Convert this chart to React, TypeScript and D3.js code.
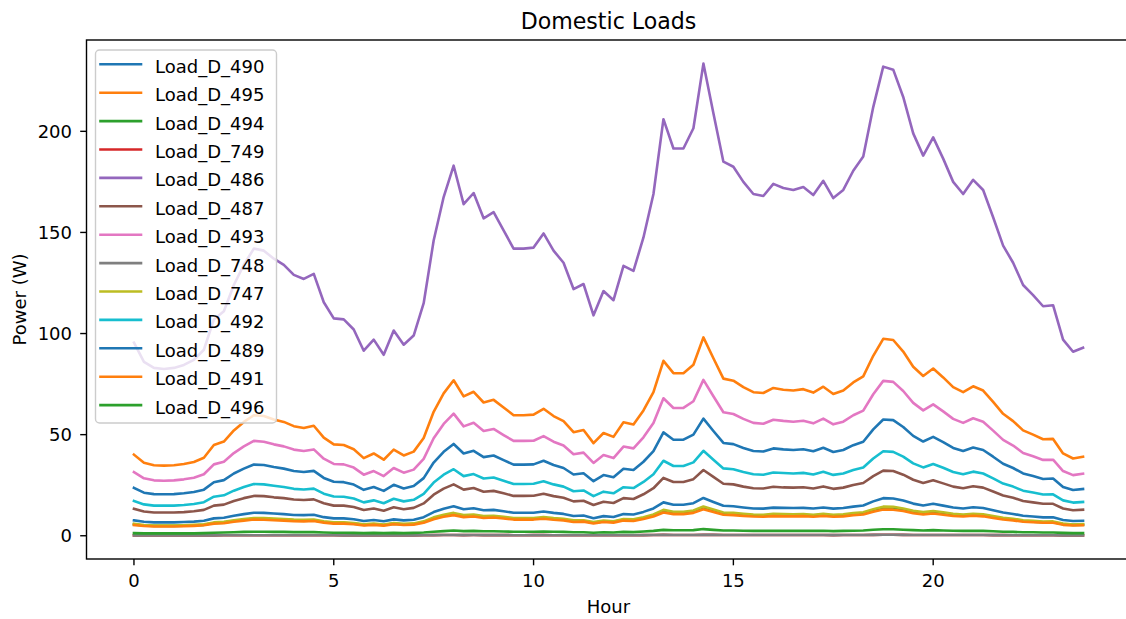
import React from "react";
import * as d3 from "d3";

const HOURS = [
  0, 0.25, 0.5, 0.75, 1, 1.25, 1.5, 1.75, 2, 2.25, 2.5, 2.75, 3, 3.25, 3.5, 3.75,
  4, 4.25, 4.5, 4.75, 5, 5.25, 5.5, 5.75, 6, 6.25, 6.5, 6.75, 7, 7.25, 7.5, 7.75,
  8, 8.25, 8.5, 8.75, 9, 9.25, 9.5, 9.75, 10, 10.25, 10.5, 10.75, 11, 11.25, 11.5, 11.75,
  12, 12.25, 12.5, 12.75, 13, 13.25, 13.5, 13.75, 14, 14.25, 14.5, 14.75, 15, 15.25, 15.5, 15.75,
  16, 16.25, 16.5, 16.75, 17, 17.25, 17.5, 17.75, 18, 18.25, 18.5, 18.75, 19, 19.25, 19.5, 19.75,
  20, 20.25, 20.5, 20.75, 21, 21.25, 21.5, 21.75, 22, 22.25, 22.5, 22.75, 23, 23.25, 23.5, 23.75,
];

const LOAD_D_490 = [
  23.7, 21.3, 20.6, 20.5, 20.6, 21.0, 21.6, 22.8, 26.5, 27.5,
  30.8, 33.2, 35.2, 35.0, 34.0, 33.2, 32.0, 31.5, 32.1, 28.6,
  26.7, 26.5, 25.3, 22.7, 24.1, 22.2, 25.2, 23.4, 24.6, 28.5,
  36.2, 41.5, 45.4, 40.7, 42.0, 38.9, 39.7, 37.4, 35.2, 35.2,
  35.3, 37.1, 35.0, 33.5, 30.3, 30.9, 27.0, 30.0, 28.9, 33.1,
  32.5, 36.6, 41.9, 51.1, 47.5, 47.5, 50.0, 57.9, 51.8, 45.9,
  45.3, 43.4, 41.9, 41.7, 43.2, 42.7, 42.4, 42.8, 41.8, 43.5,
  41.4, 42.4, 44.8, 46.5, 52.6, 57.5, 57.2, 53.8, 49.4, 46.6,
  48.9, 46.3, 43.4, 41.9, 43.6, 42.4, 39.1, 35.6, 33.5, 30.8,
  29.5, 28.1, 28.3, 24.1, 22.6, 23.1,
];

const LOAD_D_495 = [
  40.1, 36.1, 34.9, 34.7, 34.9, 35.5, 36.5, 38.6, 44.9, 46.6,
  52.1, 56.3, 59.6, 59.2, 57.5, 56.3, 54.2, 53.3, 54.4, 48.5,
  45.2, 44.9, 42.8, 38.4, 40.7, 37.6, 42.6, 39.7, 41.6, 48.3,
  61.3, 70.4, 76.9, 68.9, 71.2, 65.9, 67.2, 63.4, 59.6, 59.6,
  59.9, 62.8, 59.2, 56.7, 51.2, 52.3, 45.8, 50.8, 48.9, 56.1,
  55.0, 62.0, 71.0, 86.5, 80.4, 80.4, 84.6, 98.1, 87.8, 77.7,
  76.7, 73.5, 71.0, 70.6, 73.1, 72.2, 71.8, 72.5, 70.8, 73.7,
  70.1, 71.8, 75.8, 78.8, 89.0, 97.4, 96.8, 91.1, 83.6, 79.0,
  82.7, 78.3, 73.5, 71.0, 73.9, 71.8, 66.2, 60.3, 56.7, 52.1,
  50.0, 47.7, 47.9, 40.7, 38.2, 39.1,
];

const LOAD_D_494 = [
  5.6, 5.1, 4.9, 4.9, 4.9, 5.0, 5.1, 5.4, 6.3, 6.5,
  7.3, 7.9, 8.4, 8.3, 8.1, 7.9, 7.6, 7.5, 7.6, 6.8,
  6.3, 6.3, 6.0, 5.4, 5.7, 5.3, 6.0, 5.6, 5.8, 6.8,
  8.6, 9.9, 10.8, 9.7, 10.0, 9.3, 9.4, 8.9, 8.4, 8.4,
  8.4, 8.8, 8.3, 8.0, 7.2, 7.3, 6.4, 7.1, 6.9, 7.9,
  7.7, 8.7, 10.0, 12.2, 11.3, 11.3, 11.9, 13.8, 12.3, 10.9,
  10.8, 10.3, 10.0, 9.9, 10.3, 10.1, 10.1, 10.2, 9.9, 10.4,
  9.9, 10.1, 10.6, 11.1, 12.5, 13.7, 13.6, 12.8, 11.7, 11.1,
  11.6, 11.0, 10.3, 10.0, 10.4, 10.1, 9.3, 8.5, 8.0, 7.3,
  7.0, 6.7, 6.7, 5.7, 5.4, 5.5,
];

const LOAD_D_749 = [
  0.19, 0.17, 0.17, 0.17, 0.17, 0.17, 0.17, 0.18, 0.21, 0.22,
  0.25, 0.27, 0.28, 0.28, 0.27, 0.27, 0.26, 0.25, 0.26, 0.23,
  0.22, 0.21, 0.20, 0.18, 0.19, 0.18, 0.20, 0.19, 0.20, 0.23,
  0.29, 0.34, 0.37, 0.33, 0.34, 0.31, 0.32, 0.30, 0.28, 0.28,
  0.29, 0.30, 0.28, 0.27, 0.24, 0.25, 0.22, 0.24, 0.23, 0.27,
  0.26, 0.30, 0.34, 0.41, 0.38, 0.38, 0.40, 0.47, 0.42, 0.37,
  0.37, 0.35, 0.34, 0.34, 0.35, 0.34, 0.34, 0.35, 0.34, 0.35,
  0.33, 0.34, 0.36, 0.38, 0.42, 0.46, 0.46, 0.43, 0.40, 0.38,
  0.39, 0.37, 0.35, 0.34, 0.35, 0.34, 0.32, 0.29, 0.27, 0.25,
  0.24, 0.23, 0.23, 0.19, 0.18, 0.19,
];

const LOAD_D_486 = [
  95.5, 86, 83, 82.5, 83, 84.5, 87, 92, 107, 111,
  124, 134, 142, 141, 137, 134, 129, 127, 129.5, 115.5,
  107.5, 107, 102, 91.5, 97, 89.5, 101.5, 94.5, 99, 115,
  146, 167.5, 183, 164, 169.5, 157, 160, 151, 142, 142,
  142.5, 149.5, 141, 135, 122, 124.5, 109, 121, 116.5, 133.5,
  131, 147.5, 169, 206, 191.5, 191.5, 201.5, 233.5, 209, 185,
  182.5, 175, 169, 168, 174, 172, 171, 172.5, 168.5, 175.5,
  167, 171, 180.5, 187.5, 212, 232, 230.5, 217, 199, 188,
  197, 186.5, 175, 169, 176, 171, 157.5, 143.5, 135, 124,
  119, 113.5, 114, 97, 91, 93,
];

const LOAD_D_487 = [
  13.3, 12.0, 11.5, 11.5, 11.5, 11.7, 12.1, 12.8, 14.9, 15.4,
  17.2, 18.6, 19.7, 19.6, 19.0, 18.6, 17.9, 17.7, 18.0, 16.1,
  14.9, 14.9, 14.2, 12.7, 13.5, 12.4, 14.1, 13.1, 13.8, 16.0,
  20.3, 23.3, 25.4, 22.8, 23.6, 21.8, 22.2, 21.0, 19.7, 19.7,
  19.8, 20.8, 19.6, 18.8, 17.0, 17.3, 15.2, 16.8, 16.2, 18.6,
  18.2, 20.5, 23.5, 28.6, 26.6, 26.6, 28.0, 32.5, 29.1, 25.7,
  25.4, 24.3, 23.5, 23.4, 24.2, 23.9, 23.8, 24.0, 23.4, 24.4,
  23.2, 23.8, 25.1, 26.1, 29.5, 32.2, 32.0, 30.2, 27.7, 26.1,
  27.4, 25.9, 24.3, 23.5, 24.5, 23.8, 21.9, 19.9, 18.8, 17.2,
  16.5, 15.8, 15.8, 13.5, 12.6, 12.9,
];

const LOAD_D_493 = [
  31.5, 28.4, 27.4, 27.2, 27.4, 27.9, 28.7, 30.4, 35.3, 36.6,
  40.9, 44.2, 46.9, 46.5, 45.2, 44.2, 42.6, 41.9, 42.7, 38.1,
  35.5, 35.3, 33.7, 30.2, 32.0, 29.5, 33.5, 31.2, 32.7, 38.0,
  48.2, 55.3, 60.4, 54.1, 55.9, 51.8, 52.8, 49.8, 46.9, 46.9,
  47.0, 49.3, 46.5, 44.6, 40.3, 41.1, 36.0, 39.9, 38.4, 44.1,
  43.2, 48.7, 55.8, 68.0, 63.2, 63.2, 66.5, 77.1, 69.0, 61.1,
  60.2, 57.8, 55.8, 55.4, 57.4, 56.8, 56.4, 56.9, 55.6, 57.9,
  55.1, 56.4, 59.6, 61.9, 70.0, 76.6, 76.1, 71.6, 65.7, 62.0,
  65.0, 61.5, 57.8, 55.8, 58.1, 56.4, 52.0, 47.4, 44.6, 40.9,
  39.3, 37.5, 37.6, 32.0, 30.0, 30.7,
];

const LOAD_D_748 = [
  0.19, 0.17, 0.17, 0.17, 0.17, 0.17, 0.17, 0.18, 0.21, 0.22,
  0.25, 0.27, 0.28, 0.28, 0.27, 0.27, 0.26, 0.25, 0.26, 0.23,
  0.22, 0.21, 0.20, 0.18, 0.19, 0.18, 0.20, 0.19, 0.20, 0.23,
  0.29, 0.34, 0.37, 0.33, 0.34, 0.31, 0.32, 0.30, 0.28, 0.28,
  0.29, 0.30, 0.28, 0.27, 0.24, 0.25, 0.22, 0.24, 0.23, 0.27,
  0.26, 0.30, 0.34, 0.41, 0.38, 0.38, 0.40, 0.47, 0.42, 0.37,
  0.37, 0.35, 0.34, 0.34, 0.35, 0.34, 0.34, 0.35, 0.34, 0.35,
  0.33, 0.34, 0.36, 0.38, 0.42, 0.46, 0.46, 0.43, 0.40, 0.38,
  0.39, 0.37, 0.35, 0.34, 0.35, 0.34, 0.32, 0.29, 0.27, 0.25,
  0.24, 0.23, 0.23, 0.19, 0.18, 0.19,
];

const LOAD_D_747 = [
  5.9, 5.3, 5.1, 5.1, 5.1, 5.2, 5.4, 5.7, 6.6, 6.9,
  7.7, 8.3, 8.8, 8.7, 8.5, 8.3, 8.0, 7.9, 8.0, 7.2,
  6.7, 6.6, 6.3, 5.7, 6.0, 5.5, 6.3, 5.9, 6.1, 7.1,
  9.1, 10.4, 11.3, 10.2, 10.5, 9.7, 9.9, 9.4, 8.8, 8.8,
  8.8, 9.3, 8.7, 8.4, 7.6, 7.7, 6.8, 7.5, 7.2, 8.3,
  8.1, 9.1, 10.5, 12.8, 11.9, 11.9, 12.5, 14.5, 13.0, 11.5,
  11.3, 10.9, 10.5, 10.4, 10.8, 10.7, 10.6, 10.7, 10.4, 10.9,
  10.4, 10.6, 11.2, 11.6, 13.1, 14.4, 14.3, 13.5, 12.3, 11.7,
  12.2, 11.6, 10.9, 10.5, 10.9, 10.6, 9.8, 8.9, 8.4, 7.7,
  7.4, 7.0, 7.1, 6.0, 5.6, 5.8,
];

const LOAD_D_492 = [
  17.2, 15.5, 14.9, 14.9, 14.9, 15.2, 15.7, 16.6, 19.3, 20.0,
  22.3, 24.1, 25.6, 25.4, 24.7, 24.1, 23.2, 22.9, 23.3, 20.8,
  19.4, 19.3, 18.4, 16.5, 17.5, 16.1, 18.3, 17.0, 17.8, 20.7,
  26.3, 30.2, 32.9, 29.5, 30.5, 28.3, 28.8, 27.2, 25.6, 25.6,
  25.7, 26.9, 25.4, 24.3, 22.0, 22.4, 19.6, 21.8, 21.0, 24.0,
  23.6, 26.6, 30.4, 37.1, 34.5, 34.5, 36.3, 42.0, 37.6, 33.3,
  32.9, 31.5, 30.4, 30.2, 31.3, 31.0, 30.8, 31.1, 30.3, 31.6,
  30.1, 30.8, 32.5, 33.8, 38.2, 41.8, 41.5, 39.1, 35.8, 33.8,
  35.5, 33.6, 31.5, 30.4, 31.7, 30.8, 28.4, 25.8, 24.3, 22.3,
  21.4, 20.4, 20.5, 17.5, 16.4, 16.7,
];

const LOAD_D_489 = [
  7.6, 6.9, 6.6, 6.6, 6.6, 6.8, 7.0, 7.4, 8.6, 8.9,
  9.9, 10.7, 11.4, 11.3, 11.0, 10.7, 10.3, 10.2, 10.4, 9.2,
  8.6, 8.6, 8.2, 7.3, 7.8, 7.2, 8.1, 7.6, 7.9, 9.2,
  11.7, 13.4, 14.6, 13.1, 13.6, 12.6, 12.8, 12.1, 11.4, 11.4,
  11.4, 12.0, 11.3, 10.8, 9.8, 10.0, 8.7, 9.7, 9.3, 10.7,
  10.5, 11.8, 13.5, 16.5, 15.3, 15.3, 16.1, 18.7, 16.7, 14.8,
  14.6, 14.0, 13.5, 13.4, 13.9, 13.8, 13.7, 13.8, 13.5, 14.0,
  13.4, 13.7, 14.4, 15.0, 17.0, 18.6, 18.4, 17.4, 15.9, 15.0,
  15.8, 14.9, 14.0, 13.5, 14.1, 13.7, 12.6, 11.5, 10.8, 9.9,
  9.5, 9.1, 9.1, 7.8, 7.3, 7.4,
];

const LOAD_D_491 = [
  5.3, 4.8, 4.6, 4.6, 4.6, 4.7, 4.9, 5.2, 6.0, 6.2,
  6.9, 7.5, 8.0, 7.9, 7.7, 7.5, 7.2, 7.1, 7.3, 6.5,
  6.0, 6.0, 5.7, 5.1, 5.4, 5.0, 5.7, 5.3, 5.5, 6.4,
  8.2, 9.4, 10.2, 9.2, 9.5, 8.8, 9.0, 8.5, 8.0, 8.0,
  8.0, 8.4, 7.9, 7.6, 6.8, 7.0, 6.1, 6.8, 6.5, 7.5,
  7.3, 8.3, 9.5, 11.5, 10.7, 10.7, 11.3, 13.1, 11.7, 10.4,
  10.2, 9.8, 9.5, 9.4, 9.7, 9.6, 9.6, 9.7, 9.4, 9.8,
  9.4, 9.6, 10.1, 10.5, 11.9, 13.0, 12.9, 12.2, 11.1, 10.5,
  11.0, 10.4, 9.8, 9.5, 9.9, 9.6, 8.8, 8.0, 7.6, 6.9,
  6.7, 6.4, 6.4, 5.4, 5.1, 5.2,
];

const LOAD_D_496 = [
  1.3, 1.2, 1.2, 1.2, 1.2, 1.2, 1.2, 1.3, 1.5, 1.6,
  1.7, 1.9, 2.0, 2.0, 1.9, 1.9, 1.8, 1.8, 1.8, 1.6,
  1.5, 1.5, 1.4, 1.3, 1.4, 1.3, 1.4, 1.3, 1.4, 1.6,
  2.0, 2.3, 2.6, 2.3, 2.4, 2.2, 2.2, 2.1, 2.0, 2.0,
  2.0, 2.1, 2.0, 1.9, 1.7, 1.7, 1.5, 1.7, 1.6, 1.9,
  1.8, 2.1, 2.4, 2.9, 2.7, 2.7, 2.8, 3.3, 2.9, 2.6,
  2.6, 2.5, 2.4, 2.4, 2.4, 2.4, 2.4, 2.4, 2.4, 2.5,
  2.3, 2.4, 2.5, 2.6, 3.0, 3.2, 3.2, 3.0, 2.8, 2.6,
  2.8, 2.6, 2.5, 2.4, 2.5, 2.4, 2.2, 2.0, 1.9, 1.7,
  1.7, 1.6, 1.6, 1.4, 1.3, 1.3,
];

const SERIES_NAMES = [
  "Load_D_490", "Load_D_495", "Load_D_494", "Load_D_749", "Load_D_486", "Load_D_487",
  "Load_D_493", "Load_D_748", "Load_D_747", "Load_D_492", "Load_D_489", "Load_D_491", "Load_D_496",
];
const SERIES_VALUES = [
  LOAD_D_490, LOAD_D_495, LOAD_D_494, LOAD_D_749, LOAD_D_486, LOAD_D_487,
  LOAD_D_493, LOAD_D_748, LOAD_D_747, LOAD_D_492, LOAD_D_489, LOAD_D_491, LOAD_D_496,
];
const COLORS = [
  "#1f77b4", "#ff7f0e", "#2ca02c", "#d62728", "#9467bd", "#8c564b",
  "#e377c2", "#7f7f7f", "#bcbd22", "#17becf", "#1f77b4", "#ff7f0e", "#2ca02c",
];
const X_TICKS = [0, 5, 10, 15, 20];
const Y_TICKS = [0, 50, 100, 150, 200];

const W = 1126;
const H = 619;
const PL = 86.5, PR = 1130.5, PT = 40, PB = 559;
const FONT = "DejaVu Sans, sans-serif";

export default function App() {
  const xMin = d3.min(HOURS)!, xMax = d3.max(HOURS)!;
  const xPad = (xMax - xMin) * 0.05;
  const x = d3.scaleLinear().domain([xMin - xPad, xMax + xPad]).range([PL, PR]);
  const allVals = SERIES_VALUES.flat();
  const yMin = d3.min(allVals)!, yMax = d3.max(allVals)!;
  const yPad = (yMax - yMin) * 0.05;
  const y = d3.scaleLinear().domain([yMin - yPad, yMax + yPad]).range([PB, PT]);

  const line = d3
    .line<number>()
    .x((_, i) => x(HOURS[i]))
    .y((d) => y(d));

  const legX = 95.5, legY = 50, legW = 181, legH = 373;
  const rowY0 = 64.3, rowStep = 28.4;

  return (
    <div style={{ position: "absolute", left: 0, top: 0 }}>
      <style>{`body{margin:0}`}</style>
      <svg width={W} height={H} style={{ display: "block", background: "#fff" }} fontFamily={FONT}>
        <defs>
          <clipPath id="plotclip">
            <rect x={PL} y={PT} width={PR - PL} height={PB - PT} />
          </clipPath>
        </defs>
        <rect x={0} y={0} width={W} height={H} fill="#fff" />
        <g clipPath="url(#plotclip)">
          {SERIES_VALUES.map((vals, k) => (
            <path
              key={SERIES_NAMES[k]}
              d={line(vals) || ""}
              fill="none"
              stroke={COLORS[k]}
              strokeWidth={2.6}
              strokeLinejoin="round"
              strokeLinecap="square"
            />
          ))}
        </g>
        <rect x={PL} y={PT} width={PR - PL} height={PB - PT} fill="none" stroke="#000" strokeWidth={1.4} />
        {X_TICKS.map((t) => (
          <g key={"x" + t}>
            <line x1={x(t)} x2={x(t)} y1={PB} y2={PB + 6.3} stroke="#000" strokeWidth={1.4} />
            <text x={x(t)} y={587} textAnchor="middle" fontSize={18} fill="#000">
              {t}
            </text>
          </g>
        ))}
        {Y_TICKS.map((t) => (
          <g key={"y" + t}>
            <line x1={PL - 6.3} x2={PL} y1={y(t)} y2={y(t)} stroke="#000" strokeWidth={1.4} />
            <text x={72} y={y(t) + 6.5} textAnchor="end" fontSize={18} fill="#000">
              {t}
            </text>
          </g>
        ))}
        <text x={(PL + PR) / 2} y={613} textAnchor="middle" fontSize={18} fill="#000">
          Hour
        </text>
        <text
          transform={`translate(26, ${(PT + PB) / 2}) rotate(-90)`}
          textAnchor="middle"
          fontSize={18}
          fill="#000"
        >
          Power (W)
        </text>
        <text x={(PL + PR) / 2} y={28.5} textAnchor="middle" fontSize={22.1} fill="#000">
          Domestic Loads
        </text>
        <g>
          <rect
            x={legX}
            y={legY}
            width={legW}
            height={legH}
            rx={4}
            ry={4}
            fill="#fff"
            fillOpacity={0.8}
            stroke="#cccccc"
            strokeWidth={1.4}
          />
          {SERIES_NAMES.map((name, k) => {
            const cy = rowY0 + k * rowStep;
            return (
              <g key={"leg" + name}>
                <line x1={100.5} x2={141} y1={cy} y2={cy} stroke={COLORS[k]} strokeWidth={2.6} strokeLinecap="square" />
                <text x={155} y={cy + 8.4} fontSize={18} fill="#000">
                  {name}
                </text>
              </g>
            );
          })}
        </g>
      </svg>
    </div>
  );
}
